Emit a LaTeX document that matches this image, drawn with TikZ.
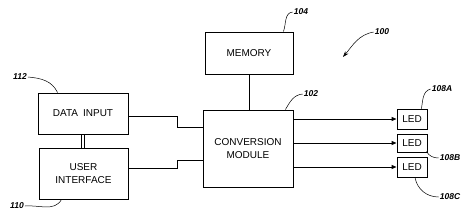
\documentclass[tikz,border=0pt]{standalone}
\usepackage{fontspec}
\setmainfont{Liberation Sans}
\usetikzlibrary{arrows.meta,calc}

\begin{document}
\begin{tikzpicture}[x=1pt, y=1pt,
    blk/.style={draw, line width=0.9pt, align=center, inner sep=0pt, font=\fontsize{10}{13}\selectfont},
    led/.style={blk, minimum width=30pt},
    num/.style={inner sep=1pt, font=\fontsize{8.5}{10}\selectfont\bfseries\itshape},
    wire/.style={line width=0.9pt},
    arr/.style={wire, -{Triangle[length=5pt,width=4pt]}},
    lead/.style={line width=0.5pt}
]
\useasboundingbox (0,0) rectangle (475,215);

\node[blk, minimum width=90pt, minimum height=41pt] (dinput) at (83,101.5) {DATA\enspace INPUT};
\node[blk, minimum width=89pt, minimum height=51pt] (uiface) at (83.5,41.5) {USER\\INTERFACE};
\node[blk, minimum width=88pt, minimum height=42pt] (memory) at (249,162) {MEMORY};
\node[blk, minimum width=90pt, minimum height=77pt] (convmod) at (248,66.5) {CONVERSION\\MODULE};
\node[led, minimum height=20pt] (leda) at (412,96) {LED};
\node[led, minimum height=18pt] (ledb) at (412,72) {LED};
\node[led, minimum height=20pt] (ledc) at (412,48) {LED};

\node[num] (n100) at (382,183) {100};
\node[num] (n102) at (311,121) {102};
\node[num] (n104) at (301,203) {104};
\node[num] (n108a) at (442,126) {108A};
\node[num] (n108b) at (450,57) {108B};
\node[num] (n108c) at (450,18) {108C};
\node[num] (n110) at (17,9) {110};
\node[num] (n112) at (20,138) {112};
\coordinate (tip100) at (343,158);

\draw[wire] (memory.south) -- (memory.south |- convmod.north);
\draw[wire] ($(dinput.east)+(0,-2.5)$) -- ++(49,0) |- ($(convmod.west)+(0,21.5)$);
\draw[wire] ($(uiface.east)+(0,5.5)$) -- ++(49,0) |- ($(convmod.west)+(0,-11.5)$);
\draw[wire, line width=0.8pt] ($(dinput.south)+(-1.3,0)$) -- ($(dinput.south |- uiface.north)+(-1.3,0)$);
\draw[wire, line width=0.8pt] ($(dinput.south)+(1.3,0)$) -- ($(dinput.south |- uiface.north)+(1.3,0)$);

\draw[arr] (convmod.east |- leda.west) -- (leda.west);
\draw[arr] (convmod.east |- ledb.west) -- (ledb.west);
\draw[arr] (convmod.east |- ledc.west) -- (ledc.west);

\draw[lead, -{Stealth[length=6pt,width=4pt]}] (n100.west) to[out=190, in=50] (tip100);
\draw[lead] (n102.west) to[out=185, in=60] ($(convmod.north east)+(-8,0)$);
\draw[lead] (n104.west) to[out=185, in=70] ($(memory.north east)+(-10,0)$);
\draw[lead] (n108a.west) to[out=195, in=80] ($(leda.north east)+(-6,0)$);
\draw[lead] ($(ledb.south east)+(-1,1)$) to[out=-60, in=180] (n108b.west);
\draw[lead] ($(ledc.south)+(3,0)$) to[out=-80, in=180] (n108c.west);
\draw[lead] (n110.east) to[out=5, in=-120] ($(uiface.south west)+(23,0)$);
\draw[lead] (n112.east) to[out=-5, in=115] ($(dinput.north west)+(20,0)$);
\end{tikzpicture}
\end{document}
